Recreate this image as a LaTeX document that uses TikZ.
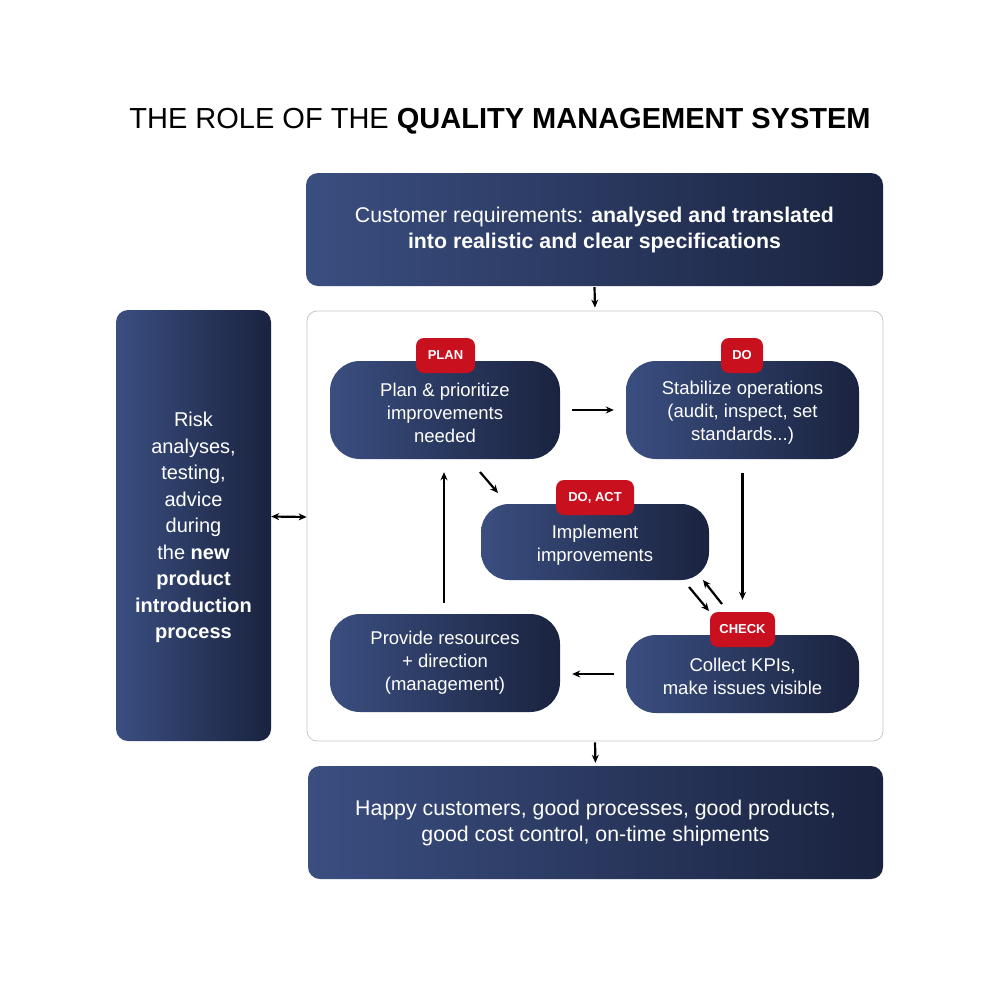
\documentclass[tikz,border=0pt]{standalone}
\usepackage{fontspec}
\setmainfont{Liberation Sans}
\usetikzlibrary{arrows.meta,calc}
\definecolor{navyL}{HTML}{3A4E80}
\definecolor{navyR}{HTML}{1A233F}
\definecolor{badgered}{HTML}{C8101E}
\definecolor{framegray}{HTML}{C8C8C8}
\tikzset{
  bigbox/.style={rounded corners=12pt, left color=navyL, right color=navyR, text=white, align=center, font=\fontsize{21.3}{26}\selectfont, inner sep=0pt},
  stepbox/.style={rounded corners=30pt, left color=navyL, right color=navyR, inner sep=0pt},
  steptext/.style={text=white, align=center, font=\fontsize{18.5}{22.8}\selectfont, inner sep=0pt},
  badge/.style={rounded corners=8pt, fill=badgered, text=white, font=\bfseries\fontsize{13}{15}\selectfont, minimum height=35pt, inner sep=0pt},
  arr/.style={-{Stealth[length=8pt,width=7pt]}, line width=2.2pt, black},
  darr/.style={{Stealth[length=8pt,width=7pt]}-{Stealth[length=8pt,width=7pt]}, line width=2.2pt, black}
}
\begin{document}
\begin{tikzpicture}[x=1pt,y=-1pt]
\useasboundingbox (0,0) rectangle (1000,980);
\fill[white] (0,0) rectangle (1000,980);
\node[anchor=base, inner sep=0pt] (title) at (500,128) {\fontsize{29}{34}\selectfont THE ROLE OF THE \textbf{QUALITY MANAGEMENT SYSTEM}};
\node[bigbox, minimum width=577pt, minimum height=113pt] (top) at (594.5,229.5) {Customer requirements: \textbf{analysed and translated}\\\textbf{into realistic and clear specifications}};
\node[draw=framegray, line width=0.8pt, rounded corners=10pt, fill=white, minimum width=576pt, minimum height=430pt] (frame) at (595,526) {};
\node[bigbox, minimum width=155pt, minimum height=431pt, font=\fontsize{20}{26.5}\selectfont] (left) at (193.5,525.5) {};
\node[text=white, align=center, inner sep=0pt, font=\fontsize{20}{26.5}\selectfont] (left-t) at ($(left.center)+(0,2)$) {Risk\\analyses,\\testing,\\advice\\during\\the \textbf{new}\\\textbf{product}\\\textbf{introduction}\\\textbf{process}};
\node[bigbox, minimum width=575pt, minimum height=113pt] (bottom) at (595.5,822.5) {Happy customers, good processes, good products,\\good cost control, on-time shipments};
\node[stepbox, minimum width=230pt, minimum height=98pt] (plan) at (445,410) {};
\node[steptext] (plan-t) at ($(plan.center)+(0,3)$) {Plan \& prioritize\\improvements\\needed};
\node[stepbox, minimum width=233pt, minimum height=98pt] (do) at (742.5,410) {};
\node[steptext] (do-t) at ($(do.center)+(0,3)$) {Stabilize operations\\(audit, inspect, set\\standards...)};
\node[stepbox, minimum width=228pt, minimum height=76pt, rounded corners=28pt] (impl) at (595,542) {};
\node[steptext] (impl-t) at ($(impl.center)+(0,3)$) {Implement\\improvements};
\node[stepbox, minimum width=233pt, minimum height=78pt] (check) at (742.5,674) {};
\node[steptext] (check-t) at ($(check.center)+(0,2.5)$) {Collect KPIs,\\make issues visible};
\node[stepbox, minimum width=230pt, minimum height=98pt] (prov) at (445,663) {};
\node[steptext] (prov-t) at (prov.center) {Provide resources\\+ direction\\(management)};
\node[badge, minimum width=59pt] (bplan) at (445.5,355.5) {PLAN};
\node[badge, minimum width=42pt] (bdo) at (742,355.5) {DO};
\node[badge, minimum width=78pt] (bact) at (595,497.5) {DO, ACT};
\node[badge, minimum width=65pt] (bcheck) at (742.5,629.5) {CHECK};
% connectors
\draw[arr, shorten <=1pt, shorten >=3pt] (top.south) -- (frame.north);
\coordinate (lr1) at ($(left.east)+(0,-9)$);
\coordinate (lr2) at ($(frame.west)+(0,-9)$);
\draw[darr] (lr1) -- (lr2);
\draw[arr, shorten <=12pt, shorten >=12pt] (plan.east) -- (do.west);
\draw[arr, shorten <=14pt, shorten >=12pt] (do.south) -- (bcheck.north);
\draw[arr, shorten <=12pt, shorten >=12pt] (check.west) -- ($(prov.east)+(0,11)$);
\draw[arr, shorten <=11pt, shorten >=13pt] ($(prov.north)+(-1,0)$) -- ($(plan.south)+(-1,0)$);
\coordinate (d1) at (480,472);
\coordinate (d2) at (498,493);
\draw[arr] (d1) -- (d2);
\coordinate (e1) at (689,587);
\coordinate (e2) at (709,611);
\draw[arr] (e1) -- (e2);
\coordinate (f1) at (722,604);
\coordinate (f2) at (703,580);
\draw[arr] (f1) -- (f2);
\draw[arr, shorten <=1pt, shorten >=3pt] (frame.south) -- (bottom.north);
\end{tikzpicture}
\end{document}
